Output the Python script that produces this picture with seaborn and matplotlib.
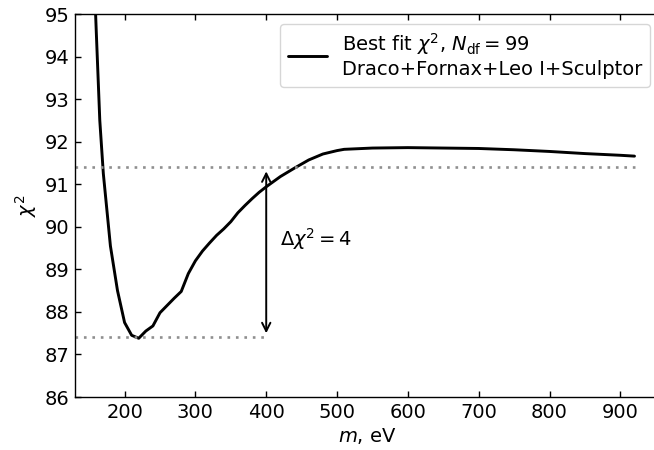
import numpy as np
import pandas as pd
import matplotlib
matplotlib.use("Agg")
import matplotlib.pyplot as plt
import seaborn as sns

# Best-fit chi^2 as a function of the particle mass m (eV)
mass_ev = [150, 155, 160, 165, 170, 180, 190, 200, 210, 220, 230, 240, 250, 260,
           270, 280, 290, 300, 310, 320, 330, 340, 350, 360, 370, 380, 390, 400,
           420, 440, 460, 480, 500, 510, 550, 600, 650, 700, 750, 800, 850, 900, 920]
chi2 = [99.0, 96.8, 94.6, 92.5, 91.25, 89.55, 88.5, 87.75, 87.45, 87.38, 87.55,
        87.67, 87.98, 88.15, 88.32, 88.48, 88.9, 89.2, 89.43, 89.62, 89.8, 89.95,
        90.12, 90.33, 90.5, 90.66, 90.81, 90.94, 91.18, 91.38, 91.57, 91.71,
        91.79, 91.82, 91.85, 91.86, 91.85, 91.84, 91.81, 91.77, 91.72, 91.68, 91.66]

chi2_min = 87.4
delta_chi2 = 4.0
chi2_limit = chi2_min + delta_chi2
m_bound = 400

legend_label = "Best fit $\\chi^2$, $N_{\\rm df} = 99$\nDraco+Fornax+Leo I+Sculptor"

sns.set_theme(style="ticks", rc={
    "xtick.direction": "in", "ytick.direction": "in",
    "xtick.top": True, "ytick.right": True,
    "xtick.major.size": 4.5, "ytick.major.size": 4.5,
    "xtick.major.width": 1.0, "ytick.major.width": 1.0,
    "axes.linewidth": 1.0,
    "axes.edgecolor": "black",
    "xtick.color": "black", "ytick.color": "black",
    "axes.labelcolor": "black", "text.color": "black",
})
plt.rcParams["font.family"] = ["DejaVu Sans"]
plt.rcParams["mathtext.fontset"] = "dejavusans"

fig = plt.figure(figsize=(6.54, 4.5), dpi=100)
ax = fig.add_axes([75 / 654, 1 - 397 / 450, (660 - 75) / 654, (397 - 14) / 450])
ax.spines["right"].set_visible(False)

df = pd.DataFrame({"m": mass_ev, "chi2": chi2})
sns.lineplot(data=df, x="m", y="chi2", ax=ax, color="black", lw=2.1,
             label=legend_label, sort=False)

xmin, xmax = 130, 956
dotted = (0, (1, 2.2))
ax.hlines(chi2_limit, xmin, 920, colors="#8f8f8f", lw=1.9, linestyles=dotted)
ax.hlines(chi2_min, xmin, m_bound, colors="#8f8f8f", lw=1.9, linestyles=dotted)

ax.annotate("", xy=(m_bound, chi2_min), xytext=(m_bound, chi2_limit),
            arrowprops=dict(arrowstyle="<->", color="black", lw=1.4,
                            mutation_scale=15, shrinkA=3, shrinkB=3))
ax.text(420, 89.7, r"$\Delta\chi^2 = 4$", fontsize=14, va="center", ha="left")

ax.set_xlim(xmin, xmax)
ax.set_ylim(86, 95)
ax.set_xticks([200, 300, 400, 500, 600, 700, 800, 900])
ax.set_yticks(list(range(86, 96)))
ax.tick_params(labelsize=14, pad=4)
ax.set_xlabel("$m$, eV", fontsize=14, labelpad=3)
ax.set_ylabel(r"$\chi^2$", fontsize=14, labelpad=4)

leg = ax.legend(loc="upper right", fontsize=14, frameon=True, fancybox=True,
                framealpha=0.8, edgecolor="#cccccc", handlelength=2.0,
                borderaxespad=0.5)

fig.savefig("out.png", dpi=100)
